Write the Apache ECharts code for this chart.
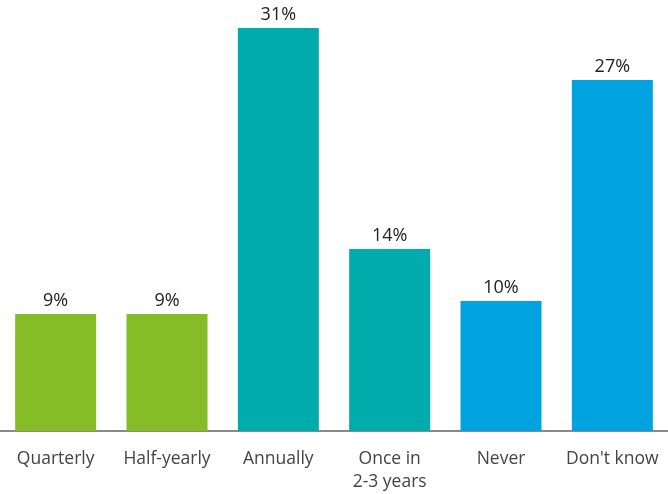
<!DOCTYPE html>
<html>
<head>
<meta charset="utf-8">
<script src="https://cdn.jsdelivr.net/npm/echarts@6/dist/echarts.min.js"></script>
<style>
  html, body { margin: 0; padding: 0; background: #fff; }
  #chart { width: 668px; height: 494px; }
</style>
</head>
<body>
<div id="chart"></div>
<script>
const categories = ["Quarterly", "Half-yearly", "Annually", "Once in\n2-3 years", "Never", "Don't know"];
const values = [9, 9, 31, 14, 10, 27];
const barColors = ["#86BC25", "#86BC25", "#00ABAB", "#00ABAB", "#00A3E0", "#00A3E0"];

const chart = echarts.init(document.getElementById("chart"));
chart.setOption({
  animation: false,
  grid: { left: -2, right: 0, top: 28, bottom: 63, containLabel: false },
  xAxis: {
    type: "category",
    data: categories,
    axisTick: { show: false },
    axisLine: { lineStyle: { color: "#8a8a8a", width: 2 } },
    axisLabel: {
      color: "#444",
      fontFamily: "Open Sans",
      fontSize: 17.5,
      lineHeight: 23,
      margin: 17,
      interval: 0
    }
  },
  yAxis: {
    type: "value",
    min: 0,
    max: 31,
    show: false,
    splitLine: { show: false }
  },
  series: [{
    type: "bar",
    barWidth: 81,
    data: values.map((v, i) => ({ value: v, itemStyle: { color: barColors[i] } })),
    label: {
      show: true,
      position: "top",
      distance: 4,
      formatter: "{c}%",
      color: "#222",
      fontFamily: "Open Sans",
      fontSize: 18
    }
  }]
});
</script>
</body>
</html>
